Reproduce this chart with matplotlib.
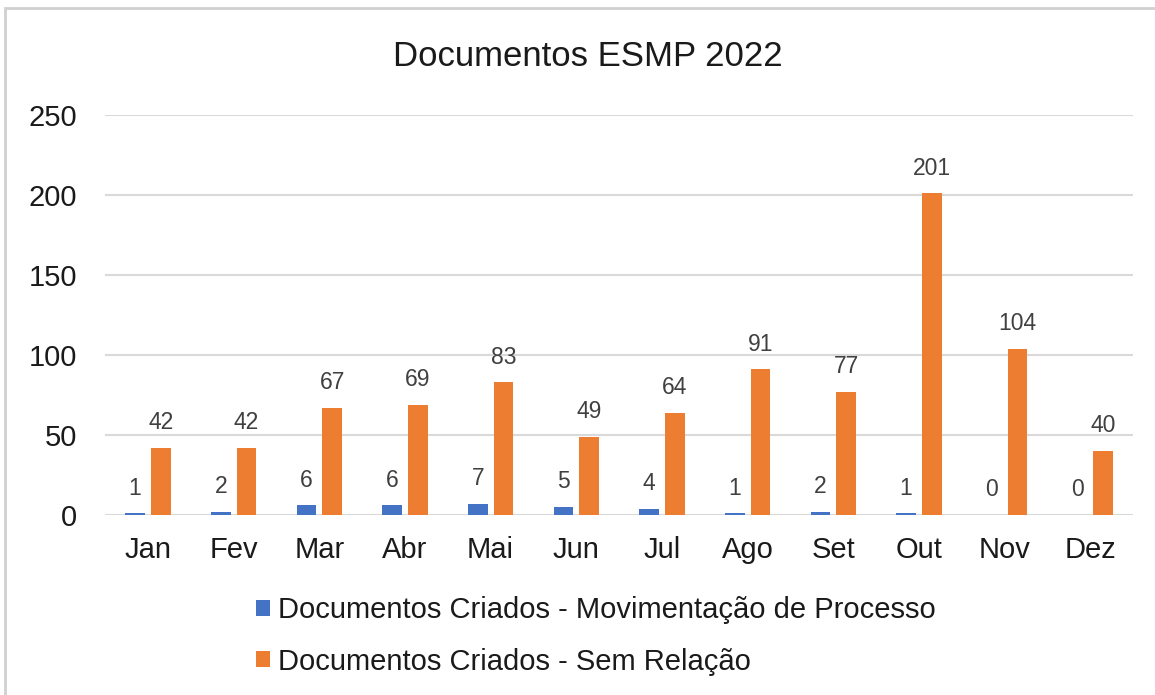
import matplotlib.pyplot as plt
import matplotlib.patches as mpatches
import numpy as np

plt.rcParams['font.family'] = ['Liberation Sans', 'DejaVu Sans']

months = ['Jan', 'Fev', 'Mar', 'Abr', 'Mai', 'Jun', 'Jul', 'Ago', 'Set', 'Out', 'Nov', 'Dez']
movimentacao = [1, 2, 6, 6, 7, 5, 4, 1, 2, 1, 0, 0]
sem_relacao = [42, 42, 67, 69, 83, 49, 64, 91, 77, 201, 104, 40]
series_names = ['Documentos Criados - Movimentação de Processo',
                'Documentos Criados - Sem Relação']

fig = plt.figure(figsize=(11.55, 6.95), dpi=100)
ax = fig.add_axes([0.091, 0.259, 0.89, 0.5755])

# chart frame
fig.patches.append(mpatches.Rectangle((0.004, -0.01), 1.2, 0.998, transform=fig.transFigure,
                                      fill=False, edgecolor='#d0d0d0', linewidth=2))

x = np.arange(len(months))
width = 0.23
off = 0.15
b1 = ax.bar(x - off, movimentacao, width, color='#4472C4', label=series_names[0], zorder=3)
b2 = ax.bar(x + off, sem_relacao, width, color='#ED7D31', label=series_names[1], zorder=3)

for bars in (b1, b2):
    for bar in bars:
        h = bar.get_height()
        ax.annotate(f'{int(h)}', xy=(bar.get_x() + bar.get_width() / 2, h),
                    xytext=(0, 18), textcoords='offset points',
                    ha='center', va='center', fontsize=16.5, color='#404040')

ax.set_xlim(-0.5, len(months) - 0.5)
ax.set_ylim(0, 250)
ax.set_yticks(range(0, 251, 50))
ax.set_xticks(x)
ax.set_xticklabels(months)
ax.tick_params(axis='both', length=0, labelsize=21, labelcolor='#1a1a1a')
ax.tick_params(axis='x', pad=15)
ax.tick_params(axis='y', pad=20)
for s in ax.spines.values():
    s.set_visible(False)
ax.yaxis.grid(True, color='#d9d9d9', linewidth=1.5)
ax.set_axisbelow(True)

fig.text(0.509, 0.918, 'Documentos ESMP 2022', ha='center', va='center', fontsize=25, color='#1a1a1a')

leg = fig.legend(loc='center left', bbox_to_anchor=(0.222, 0.085), ncol=1, frameon=False,
                 fontsize=21, handlelength=0.45, handleheight=0.45, handletextpad=0.28,
                 labelspacing=0.8, borderaxespad=0, borderpad=0)
for t in leg.get_texts():
    t.set_color('#1a1a1a')

fig.savefig('out.png', dpi=100)
